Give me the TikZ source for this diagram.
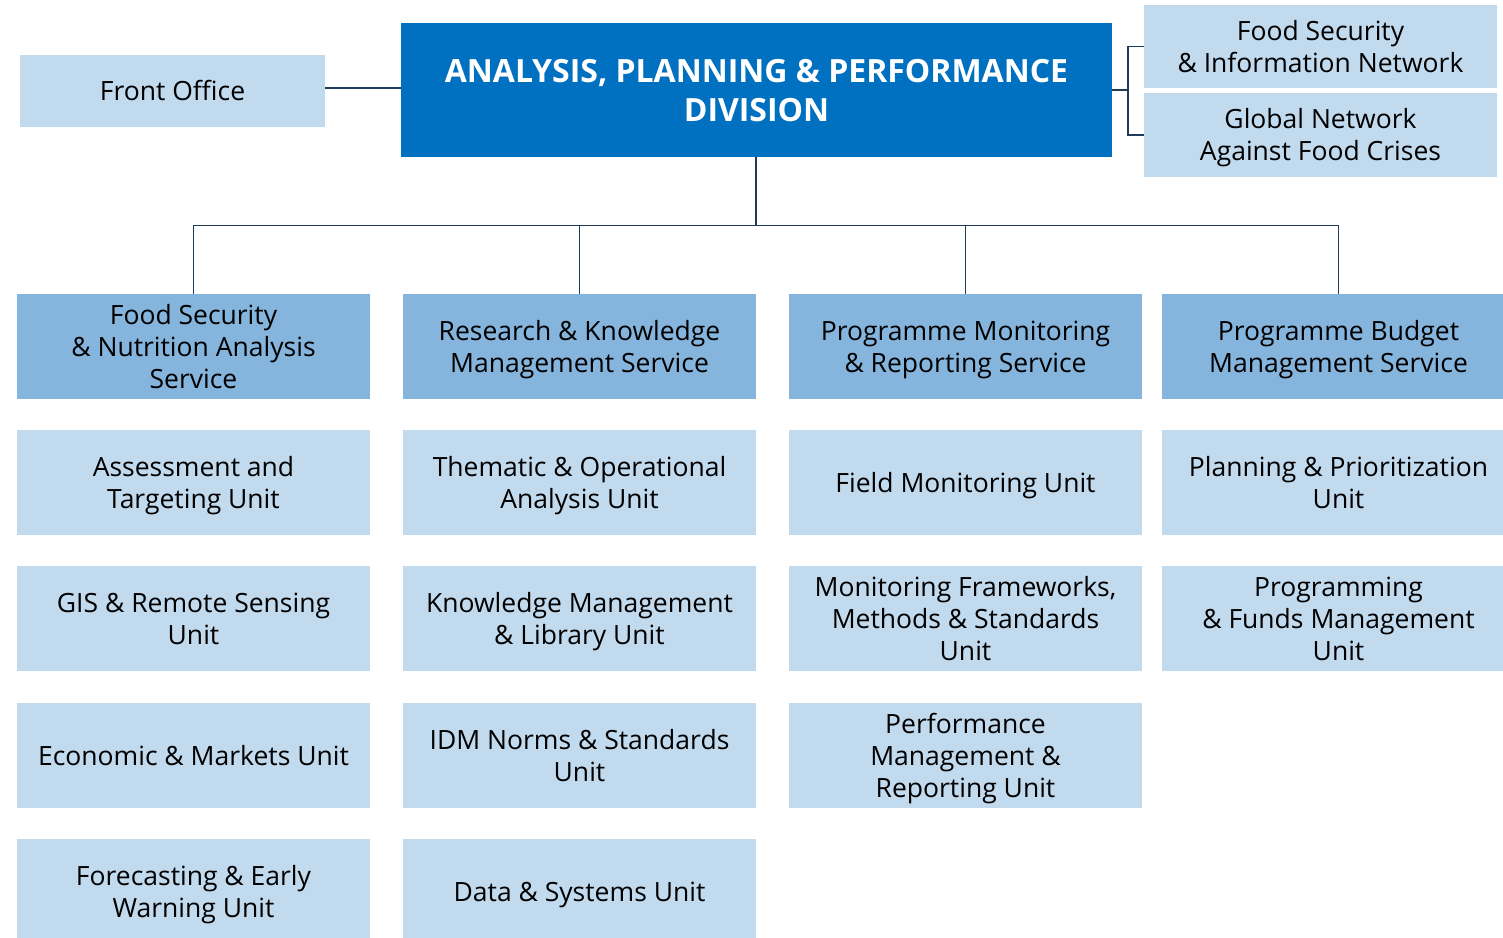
\documentclass[tikz,border=0pt]{standalone}
\usepackage{fontspec}
\setmainfont{Open Sans}
\definecolor{mainc}{RGB}{0,112,192}
\definecolor{servc}{RGB}{133,180,221}
\definecolor{unitc}{RGB}{194,218,238}
\definecolor{linec}{RGB}{31,59,92}
\newcommand\mystrut{\rule[-6.5pt]{0pt}{32pt}}
\newcommand\mytitlestrut{\rule[-8pt]{0pt}{39pt}}
\newcommand\s{\mystrut}
\begin{document}
\begin{tikzpicture}[x=1pt,y=-1pt,
  box/.style={inner sep=0pt, outer sep=0pt, align=center, text=black, font=\fontsize{26.5}{32}\selectfont,
    execute at end node=\mystrut},
  unitbox/.style={box, fill=unitc, minimum width=353pt, minimum height=105pt},
  servbox/.style={box, fill=servc, minimum width=353pt, minimum height=105pt},
  topbox/.style={box, fill=unitc},
  mainbox/.style={inner sep=0pt, outer sep=0pt, align=center, fill=mainc, text=white,
    font=\fontsize{32}{39}\selectfont\bfseries, minimum width=711pt, minimum height=134pt,
    execute at end node=\mytitlestrut},
  conn/.style={draw=linec, line width=1.2pt}]
\useasboundingbox (0,0) rectangle (1503,937);
\fill[white] (0,0) rectangle (1503,937);

% top row
\node[mainbox] (main) at (756.5,90) {\mytitlestrut ANALYSIS, PLANNING \& PERFORMANCE\\DIVISION};
\node[topbox, minimum width=305pt, minimum height=72pt] (fo) at (172.5,91) {\s Front Office};
\node[topbox, minimum width=353pt, minimum height=83pt] (fsin) at (1320.5,46.5) {\s Food Security\\\& Information Network};
\node[topbox, minimum width=353pt, minimum height=84pt] (gn) at (1320.5,135) {\s Global Network\\Against Food Crises};

% services
\node[servbox] (s1) at (193.5,346.5) {\s Food Security\\\& Nutrition Analysis\\Service};
\node[servbox] (s2) at (579.5,346.5) {\s Research \& Knowledge\\Management Service};
\node[servbox] (s3) at (965.5,346.5) {\s Programme Monitoring\\\& Reporting Service};
\node[servbox] (s4) at (1338.5,346.5) {\s Programme Budget\\Management Service};

% units column 1
\node[unitbox] (u11) at (193.5,482.5) {\s Assessment and\\Targeting Unit};
\node[unitbox] (u12) at (193.5,618.5) {\s GIS \& Remote Sensing\\Unit};
\node[unitbox] (u13) at (193.5,755.5) {\s Economic \& Markets Unit};
\node[unitbox] (u14) at (193.5,891.5) {\s Forecasting \& Early\\Warning Unit};
% column 2
\node[unitbox] (u21) at (579.5,482.5) {\s Thematic \& Operational\\Analysis Unit};
\node[unitbox] (u22) at (579.5,618.5) {\s Knowledge Management\\\& Library Unit};
\node[unitbox] (u23) at (579.5,755.5) {\s IDM Norms \& Standards\\Unit};
\node[unitbox] (u24) at (579.5,891.5) {\s Data \& Systems Unit};
% column 3
\node[unitbox] (u31) at (965.5,482.5) {\s Field Monitoring Unit};
\node[unitbox] (u32) at (965.5,618.5) {\s Monitoring Frameworks,\\Methods \& Standards\\Unit};
\node[unitbox] (u33) at (965.5,755.5) {\s Performance\\Management \&\\Reporting Unit};
% column 4
\node[unitbox] (u41) at (1338.5,482.5) {\s Planning \& Prioritization\\Unit};
\node[unitbox] (u42) at (1338.5,618.5) {\s Programming\\\& Funds Management\\Unit};

% connectors
\coordinate (hub) at (756,225.5);
\coordinate (bk) at (1128,90);
\draw[conn] ([yshift=3pt]fo.east) -- ([yshift=3pt]fo.east -| main.west);
\draw[conn] (main.east) -- (bk);
\draw[conn] (fsin.west) -| (bk) |- (gn.west);
\draw[conn] (main.south -| hub) -- (hub);
\draw[conn] (s1.north) |- (hub) -| (s4.north);
\draw[conn] (s2.north) -- (s2.north |- hub);
\draw[conn] (s3.north) -- (s3.north |- hub);
\end{tikzpicture}
\end{document}
